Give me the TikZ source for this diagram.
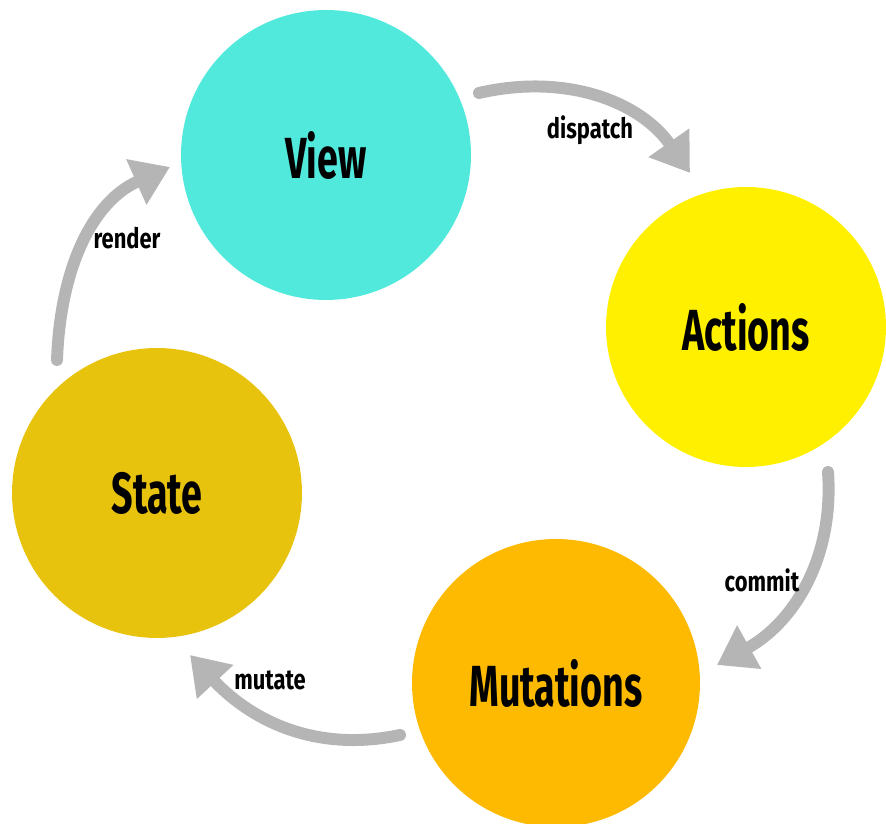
\documentclass[tikz,border=0pt]{standalone}
\usepackage{fontspec}
\setmainfont{Fira Sans}[FakeStretch=0.78]
\newfontfamily\stagefont{Fira Sans}[FakeStretch=0.65]
\usetikzlibrary{arrows.meta}

\definecolor{viewcol}{HTML}{52E9DD}
\definecolor{actcol}{HTML}{FFF000}
\definecolor{statecol}{HTML}{E8C30E}
\definecolor{mutcol}{HTML}{FDBA00}
\definecolor{flowgray}{HTML}{B5B5B5}

\begin{document}
\begin{tikzpicture}[x=0.02cm, y=0.02cm,
    stage/.style={circle, inner sep=0pt, font=\stagefont\fontsize{33}{36}\selectfont\bfseries},
    flow/.style={draw=flowgray, line width=6.8pt, line cap=round, -{Triangle[length=21pt,width=27pt]}},
    verb/.style={font=\fontsize{16}{18}\selectfont\bfseries}]
  \useasboundingbox (0,0) rectangle (886,824);
  % the four stages of the store cycle
  \node[stage, fill=viewcol, minimum size=5.8cm] (view) at (326,669) {View};
  \node[stage, fill=actcol, minimum size=5.6cm] (actions) at (746,497) {Actions};
  \node[stage, fill=mutcol, minimum size=5.76cm] (mutations) at (556,141) {Mutations};
  \node[stage, fill=statecol, minimum size=5.8cm] (state) at (157,331) {State};
  % arrow ends
  \coordinate (d0) at (479,731); \coordinate (d1) at (690,651);
  \coordinate (c0) at (828,352); \coordinate (c1) at (717,159);
  \coordinate (m0) at (400,89);  \coordinate (m1) at (190,169);
  \coordinate (r0) at (57,464);  \coordinate (r1) at (170,657);
  \draw[flow] (d0) to[out=13, in=125] (d1);
  \draw[flow] (c0) to[out=-86, in=29] (c1);
  \draw[flow] (m0) to[out=192, in=-47] (m1);
  \draw[flow] (r0) to[out=88, in=204] (r1);
  \node[verb] (dispatch) at (590,694) {dispatch};
  \node[verb] (commit) at (762,244) {commit};
  \node[verb] (mutate) at (270,144) {mutate};
  \node[verb] (render) at (127,586) {render};
\end{tikzpicture}
\end{document}
